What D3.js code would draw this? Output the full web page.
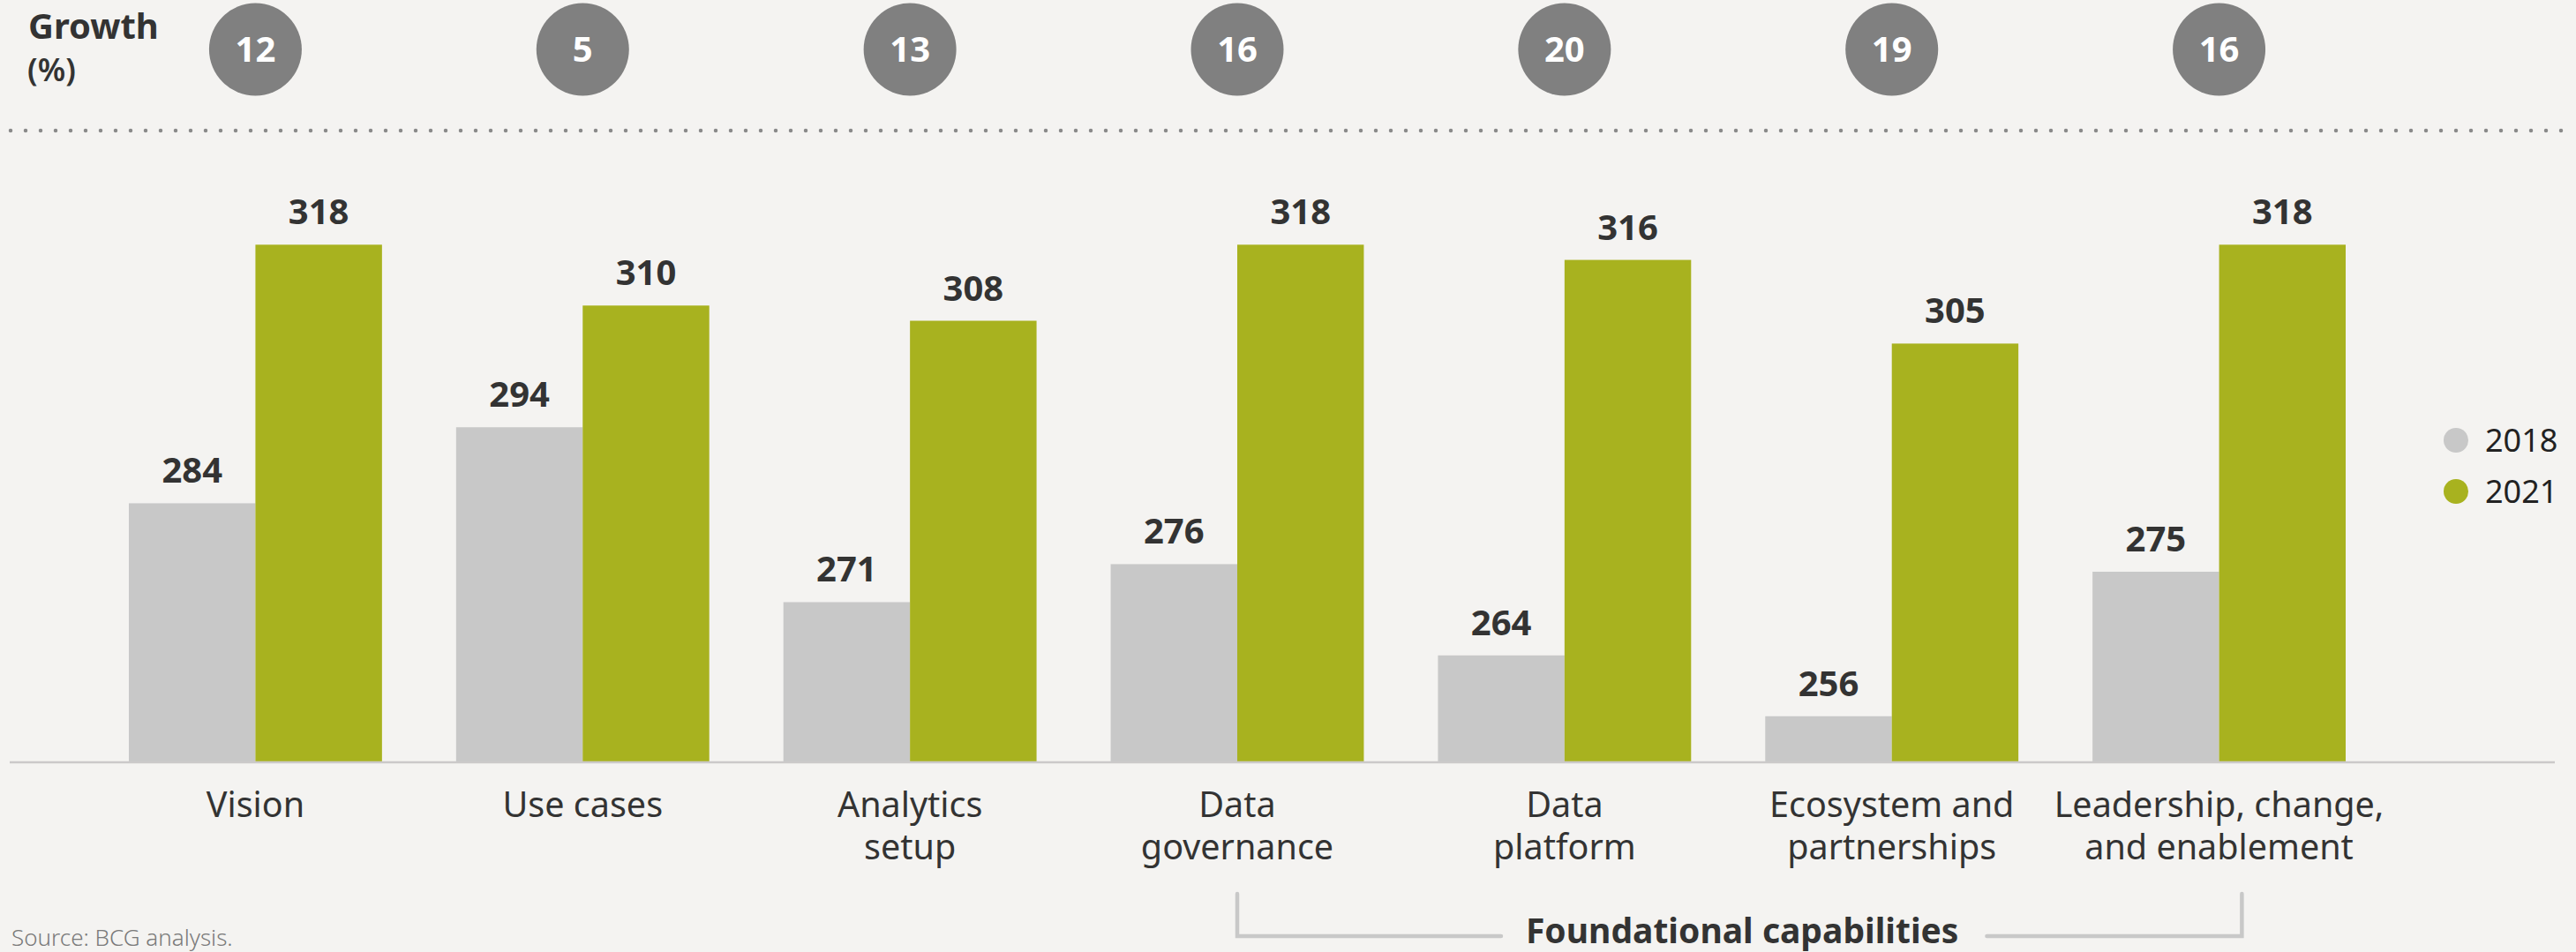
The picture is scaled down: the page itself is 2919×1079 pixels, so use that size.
<!DOCTYPE html>
<html>
<head>
<meta charset="utf-8">
<script src="https://cdn.jsdelivr.net/npm/d3@7"></script>
<style>
  html, body { margin: 0; padding: 0; background: #f4f3f1; }
  svg { display: block; }
</style>
</head>
<body>
<svg id="chart" width="2919" height="1079"></svg>
<script>
// ---- data ----
const categories = ["Vision", "Use cases", "Analytics setup", "Data governance", "Data platform", "Ecosystem and partnerships", "Leadership, change, and enablement"];
const categoryLines = [["Vision"], ["Use cases"], ["Analytics", "setup"], ["Data", "governance"], ["Data", "platform"], ["Ecosystem and", "partnerships"], ["Leadership, change,", "and enablement"]];
const values2018 = [284, 294, 271, 276, 264, 256, 275];
const values2021 = [318, 310, 308, 318, 316, 305, 318];
const growth = [12, 5, 13, 16, 20, 19, 16];
const seriesNames = ["2018", "2021"];
const bracketLabel = "Foundational capabilities";
const bracketFrom = "Data governance";
const bracketTo = "Leadership, change, and enablement";
const sourceText = "Source: BCG analysis.";

// ---- setup ----
const W = 2919, H = 1079;
const svg = d3.select("#chart");
const colors = { "2018": "#c8c8c8", "2021": "#a8b21f" };
const textColor = "#333333";
const font = "'Noto Sans', 'Open Sans', sans-serif";

svg.append("rect").attr("width", W).attr("height", H).attr("fill", "#f4f3f1");

const x = d3.scaleBand().domain(categories).range([146, 2658]).paddingInner(0.2265).paddingOuter(0);
const xs = d3.scaleBand().domain(seriesNames).range([0, x.bandwidth()]).padding(0);
const baseY = 863.5;
const y = d3.scaleLinear().domain([250, 330]).range([baseY, baseY - 80 * 8.62]);

// ---- growth header ----
svg.append("text").attr("x", 32).attr("y", 44).attr("font-family", font).attr("font-weight", 700)
  .attr("font-size", 40).attr("fill", textColor).text("Growth");
svg.append("text").attr("x", 31).attr("y", 92).attr("font-family", font).attr("font-weight", 600)
  .attr("font-size", 36).attr("fill", textColor).text("(%)");

const gc = svg.append("g").selectAll("g").data(categories).join("g")
  .attr("transform", d => `translate(${x(d) + x.bandwidth() / 2},56)`);
gc.append("circle").attr("r", 52.5).attr("fill", "#808080");
gc.append("text").attr("text-anchor", "middle").attr("dy", "0.36em")
  .attr("font-family", font).attr("font-weight", 700).attr("font-size", 40).attr("fill", "#ffffff")
  .text((d, i) => growth[i]);

// dotted separator
svg.append("line").attr("x1", 12).attr("x2", W).attr("y1", 148).attr("y2", 148)
  .attr("stroke", "#8a8a8a").attr("stroke-width", 4.5).attr("stroke-linecap", "round")
  .attr("stroke-dasharray", "0 17");

// ---- bars ----
const rows = categories.map((c, i) => ({ c, vals: [{ s: "2018", v: values2018[i] }, { s: "2021", v: values2021[i] }] }));
const grp = svg.append("g").selectAll("g").data(rows).join("g")
  .attr("transform", d => `translate(${x(d.c)},0)`);
grp.selectAll("rect").data(d => d.vals).join("rect")
  .attr("x", d => xs(d.s)).attr("width", xs.bandwidth())
  .attr("y", d => y(d.v)).attr("height", d => baseY - y(d.v))
  .attr("fill", d => colors[d.s]);
grp.selectAll("text").data(d => d.vals).join("text")
  .attr("x", d => xs(d.s) + xs.bandwidth() / 2).attr("y", d => y(d.v) - 23)
  .attr("text-anchor", "middle").attr("font-family", font).attr("font-weight", 700)
  .attr("font-size", 40).attr("fill", textColor).text(d => d.v);

// axis line
svg.append("line").attr("x1", 11).attr("x2", 2895).attr("y1", baseY + 0.5).attr("y2", baseY + 0.5)
  .attr("stroke", "#cbc9c9").attr("stroke-width", 2.5);

// category labels
const lab = svg.append("g").selectAll("text").data(categories).join("text")
  .attr("x", d => x(d) + x.bandwidth() / 2).attr("y", 926)
  .attr("text-anchor", "middle").attr("font-family", font).attr("font-size", 39.5)
  .attr("fill", textColor);
lab.selectAll("tspan").data((d, i) => categoryLines[i]).join("tspan")
  .attr("x", function () { return this.parentNode.getAttribute("x"); })
  .attr("dy", (d, i) => i === 0 ? 0 : 48).text(d => d);

// ---- legend ----
const leg = svg.append("g").selectAll("g").data(seriesNames).join("g")
  .attr("transform", (d, i) => `translate(2783,${499 + i * 58})`);
leg.append("circle").attr("r", 14).attr("fill", d => colors[d]);
leg.append("text").attr("x", 33).attr("dy", "0.36em").attr("font-family", font)
  .attr("font-size", 36).attr("fill", "#222").text(d => d);

// ---- bracket ----
const bx1 = x(bracketFrom) + x.bandwidth() / 2;
const bx2 = x(bracketTo) + x.bandwidth() * 0.59;
const bTop = 1013, bY = 1061;
const bt = svg.append("text").attr("x", (bx1 + bx2) / 2 + 3).attr("y", 1069).attr("text-anchor", "middle")
  .attr("font-family", font).attr("font-weight", 700).attr("font-size", 39).attr("fill", textColor)
  .text(bracketLabel);
const bb = bt.node().getBBox();
const bstroke = { stroke: "#c8c8c8", w: 4.5 };
svg.append("path")
  .attr("d", `M${bx1},${bTop} L${bx1},${bY} L${bb.x - 28},${bY}`)
  .attr("fill", "none").attr("stroke", bstroke.stroke).attr("stroke-width", bstroke.w).attr("stroke-linecap", "round");
svg.append("path")
  .attr("d", `M${bb.x + bb.width + 32},${bY} L${bx2},${bY} L${bx2},${bTop}`)
  .attr("fill", "none").attr("stroke", bstroke.stroke).attr("stroke-width", bstroke.w).attr("stroke-linecap", "round");

// source
svg.append("text").attr("x", 13).attr("y", 1072).attr("font-family", font).attr("font-weight", 300)
  .attr("font-size", 26).attr("fill", "#7a7a7a").text(sourceText);
</script>
</body>
</html>
